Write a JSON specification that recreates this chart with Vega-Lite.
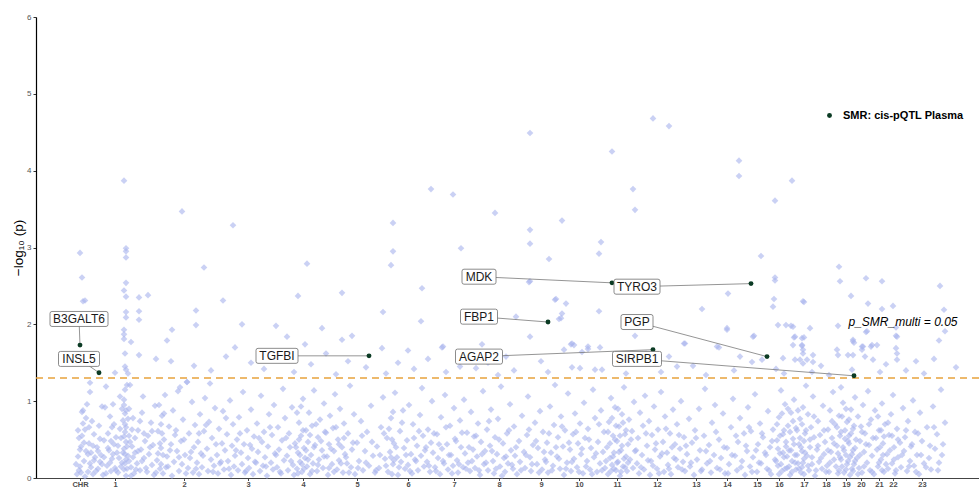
{
"$schema":"https://vega.github.io/schema/vega-lite/v6.json",
"width":943,"height":461,
"autosize":{"type":"none"},
"padding":{"left":36,"top":17,"right":0,"bottom":10},
"background":"white",
"config":{"view":{"stroke":null},"font":"Liberation Sans"},
"datasets":{
"bg":[
{"pos":44,"logp":2.93},{"pos":46,"logp":2.61},{"pos":49,"logp":2.31},{"pos":47,"logp":2.30},{"pos":51,"logp":1.49},{"pos":54,"logp":1.24},
{"pos":88,"logp":3.87},{"pos":90,"logp":2.99},{"pos":90,"logp":2.95},{"pos":90,"logp":2.87},{"pos":90,"logp":2.54},{"pos":88,"logp":2.44},{"pos":90,"logp":2.36},{"pos":90,"logp":2.16},{"pos":90,"logp":2.09},{"pos":88,"logp":1.93},{"pos":88,"logp":1.87},{"pos":88,"logp":1.81},{"pos":95,"logp":1.77},{"pos":89,"logp":1.62},{"pos":89,"logp":1.45},{"pos":90,"logp":1.41},{"pos":92,"logp":1.36},{"pos":79,"logp":1.37},{"pos":103,"logp":2.35},{"pos":112,"logp":2.38},{"pos":103,"logp":2.17},{"pos":103,"logp":2.06},{"pos":103,"logp":1.60},
{"pos":146,"logp":3.47},{"pos":168,"logp":2.74},{"pos":187,"logp":2.31},{"pos":160,"logp":2.18},{"pos":160,"logp":1.99},{"pos":136,"logp":1.93},{"pos":131,"logp":1.79},{"pos":151,"logp":1.25},
{"pos":197,"logp":3.29},{"pos":206,"logp":2.00},{"pos":199,"logp":1.70},{"pos":240,"logp":1.98},{"pos":251,"logp":1.84},
{"pos":271,"logp":2.79},{"pos":262,"logp":2.37},{"pos":269,"logp":1.74},{"pos":286,"logp":1.95},{"pos":306,"logp":2.41},{"pos":306,"logp":1.80},{"pos":316,"logp":1.85},
{"pos":347,"logp":2.16},{"pos":346,"logp":1.69},{"pos":357,"logp":3.32},{"pos":357,"logp":2.95},{"pos":355,"logp":2.77},{"pos":386,"logp":2.47},{"pos":385,"logp":2.04},
{"pos":395,"logp":3.76},{"pos":417,"logp":3.69},{"pos":425,"logp":2.99},{"pos":407,"logp":1.71},{"pos":446,"logp":1.74},{"pos":459,"logp":3.45},
{"pos":494,"logp":4.49},{"pos":494,"logp":3.23},{"pos":494,"logp":3.05},{"pos":494,"logp":2.56},{"pos":494,"logp":1.84},{"pos":493,"logp":2.55},{"pos":480,"logp":2.10},{"pos":513,"logp":2.85},{"pos":519,"logp":2.32},{"pos":530,"logp":2.27},{"pos":526,"logp":3.35},{"pos":526,"logp":2.14},{"pos":523,"logp":2.07},{"pos":520,"logp":2.33},{"pos":525,"logp":2.08},{"pos":535,"logp":1.74},{"pos":536,"logp":1.75},{"pos":538,"logp":1.73},{"pos":546,"logp":1.64},{"pos":528,"logp":1.67},{"pos":552,"logp":1.68},{"pos":552,"logp":1.71},{"pos":564,"logp":1.70},{"pos":406,"logp":1.70},{"pos":424,"logp":1.45},{"pos":440,"logp":1.43},{"pos":536,"logp":1.44},{"pos":544,"logp":1.43},{"pos":559,"logp":1.41},{"pos":566,"logp":1.41},
{"pos":563,"logp":2.92},{"pos":565,"logp":3.07},{"pos":563,"logp":2.17},{"pos":576,"logp":4.25},{"pos":597,"logp":3.76},{"pos":599,"logp":3.49},{"pos":599,"logp":1.85},{"pos":617,"logp":4.68},{"pos":633,"logp":4.58},{"pos":648,"logp":1.75},{"pos":649,"logp":1.75},{"pos":641,"logp":1.45},{"pos":666,"logp":2.20},{"pos":681,"logp":1.71},{"pos":683,"logp":1.70},{"pos":691,"logp":1.95},{"pos":692,"logp":2.40},{"pos":691,"logp":1.93},
{"pos":703,"logp":4.13},{"pos":703,"logp":3.93},{"pos":725,"logp":2.89},{"pos":739,"logp":3.61},{"pos":739,"logp":2.61},{"pos":739,"logp":2.57},{"pos":738,"logp":2.33},{"pos":737,"logp":2.23},{"pos":704,"logp":1.58},{"pos":716,"logp":1.51},{"pos":726,"logp":1.54},{"pos":717,"logp":1.84},{"pos":718,"logp":1.85},
{"pos":756,"logp":3.87},{"pos":768,"logp":2.29},{"pos":767,"logp":2.30},{"pos":742,"logp":1.99},{"pos":755,"logp":1.98},{"pos":750,"logp":1.99},{"pos":757,"logp":1.97},{"pos":774,"logp":1.95},{"pos":758,"logp":1.83},{"pos":768,"logp":1.83},{"pos":757,"logp":1.73},{"pos":766,"logp":1.73},{"pos":767,"logp":1.67},{"pos":777,"logp":1.60},{"pos":747,"logp":1.56},{"pos":764,"logp":1.54},{"pos":771,"logp":1.54},{"pos":759,"logp":1.84},{"pos":766,"logp":1.82},{"pos":766,"logp":1.72},{"pos":767,"logp":1.62},{"pos":767,"logp":1.49},{"pos":759,"logp":1.54},{"pos":777,"logp":1.51},{"pos":776,"logp":1.38},
{"pos":803,"logp":2.75},{"pos":802,"logp":1.98},{"pos":804,"logp":2.56},{"pos":815,"logp":2.37},{"pos":830,"logp":2.60},{"pos":832,"logp":2.27},{"pos":846,"logp":2.56},{"pos":846,"logp":2.20},{"pos":857,"logp":2.24},{"pos":830,"logp":1.90},{"pos":831,"logp":1.91},{"pos":818,"logp":1.76},{"pos":827,"logp":1.71},{"pos":835,"logp":1.71},{"pos":801,"logp":1.67},{"pos":802,"logp":1.60},{"pos":817,"logp":1.80},{"pos":826,"logp":1.71},{"pos":817,"logp":1.60},{"pos":829,"logp":1.58},{"pos":837,"logp":1.54},{"pos":841,"logp":1.73},{"pos":812,"logp":1.60},{"pos":817,"logp":1.78},{"pos":826,"logp":1.67},{"pos":836,"logp":1.73},{"pos":844,"logp":1.38},{"pos":816,"logp":1.41},
{"pos":860,"logp":1.96},{"pos":860,"logp":1.85},{"pos":860,"logp":1.69},{"pos":861,"logp":1.62},{"pos":861,"logp":1.54},{"pos":861,"logp":1.84},{"pos":904,"logp":2.50},{"pos":908,"logp":2.19},{"pos":909,"logp":1.91},{"pos":903,"logp":1.79},{"pos":898,"logp":1.55},
{"pos":120,"logp":1.55},{"pos":135,"logp":1.52},{"pos":158,"logp":1.46},{"pos":175,"logp":1.40},{"pos":190,"logp":1.58},{"pos":215,"logp":1.50},{"pos":228,"logp":1.42},{"pos":245,"logp":1.56},{"pos":258,"logp":1.38},{"pos":275,"logp":1.48},{"pos":290,"logp":1.62},{"pos":300,"logp":1.35},{"pos":312,"logp":1.52},{"pos":330,"logp":1.44},{"pos":350,"logp":1.36},{"pos":362,"logp":1.50},{"pos":372,"logp":1.66},{"pos":378,"logp":1.42},{"pos":392,"logp":1.55},{"pos":410,"logp":1.38},{"pos":428,"logp":1.60},{"pos":452,"logp":1.50},{"pos":462,"logp":1.34},{"pos":470,"logp":1.58},{"pos":478,"logp":1.40},{"pos":505,"logp":1.52},{"pos":512,"logp":1.38},{"pos":580,"logp":1.56},{"pos":590,"logp":1.36},{"pos":610,"logp":1.62},{"pos":620,"logp":1.50},{"pos":625,"logp":1.38},{"pos":633,"logp":1.58},{"pos":657,"logp":1.46},{"pos":670,"logp":1.34},{"pos":698,"logp":1.40},{"pos":740,"logp":1.42},{"pos":748,"logp":1.36},{"pos":785,"logp":1.46},{"pos":793,"logp":1.34},{"pos":850,"logp":1.48},{"pos":870,"logp":1.40},{"pos":880,"logp":1.52},{"pos":888,"logp":1.36},{"pos":920,"logp":1.44},
{"pos":41,"logp":0.05},{"pos":42,"logp":0.28},{"pos":43,"logp":0.52},{"pos":44,"logp":0.15},{"pos":45,"logp":0.41},{"pos":46,"logp":0.86},{"pos":47,"logp":0.88},{"pos":48,"logp":0.22},{"pos":49,"logp":0.63},{"pos":50,"logp":0.35},{"pos":43,"logp":0.10},{"pos":47,"logp":0.71},
{"pos":51,"logp":0.96},{"pos":52,"logp":0.08},{"pos":53,"logp":0.45},{"pos":54,"logp":0.19},{"pos":55,"logp":0.33},{"pos":56,"logp":0.74},{"pos":57,"logp":0.05},{"pos":58,"logp":0.57},{"pos":59,"logp":0.27},{"pos":54,"logp":1.12},
{"pos":61,"logp":0.40},{"pos":62,"logp":0.12},{"pos":63,"logp":0.68},{"pos":64,"logp":0.21},{"pos":66,"logp":0.93},{"pos":67,"logp":0.04},{"pos":68,"logp":0.49},{"pos":69,"logp":0.92},{"pos":70,"logp":1.19},{"pos":65,"logp":0.30},
{"pos":71,"logp":0.16},{"pos":72,"logp":0.58},{"pos":73,"logp":0.36},{"pos":74,"logp":0.80},{"pos":75,"logp":0.09},{"pos":76,"logp":0.25},{"pos":77,"logp":0.96},{"pos":78,"logp":0.44},{"pos":79,"logp":0.13},{"pos":76,"logp":0.66},
{"pos":81,"logp":0.33},{"pos":82,"logp":0.07},{"pos":84,"logp":1.06},{"pos":85,"logp":0.52},{"pos":86,"logp":0.20},{"pos":87,"logp":0.75},{"pos":88,"logp":0.11},{"pos":88,"logp":0.38},{"pos":89,"logp":0.60},{"pos":89,"logp":0.84},{"pos":90,"logp":0.24},{"pos":90,"logp":0.47},{"pos":89,"logp":1.15},{"pos":88,"logp":0.95},{"pos":90,"logp":0.03},{"pos":89,"logp":0.70},{"pos":91,"logp":1.21},{"pos":88,"logp":1.02},
{"pos":92,"logp":0.29},{"pos":93,"logp":0.55},{"pos":94,"logp":1.21},{"pos":95,"logp":0.14},{"pos":96,"logp":0.41},{"pos":97,"logp":0.78},{"pos":98,"logp":0.06},{"pos":99,"logp":0.33},{"pos":93,"logp":0.90},
{"pos":101,"logp":0.19},{"pos":102,"logp":0.62},{"pos":104,"logp":0.10},{"pos":105,"logp":0.37},{"pos":106,"logp":0.85},{"pos":107,"logp":1.06},{"pos":108,"logp":0.26},{"pos":109,"logp":0.48},
{"pos":111,"logp":0.08},{"pos":112,"logp":0.55},{"pos":113,"logp":0.31},{"pos":115,"logp":0.72},{"pos":116,"logp":0.17},{"pos":117,"logp":0.43},{"pos":118,"logp":0.04},{"pos":119,"logp":0.94},
{"pos":121,"logp":0.23},{"pos":122,"logp":0.61},{"pos":124,"logp":0.12},{"pos":125,"logp":0.39},{"pos":126,"logp":0.81},{"pos":127,"logp":0.06},{"pos":128,"logp":0.50},{"pos":129,"logp":1.08},
{"pos":131,"logp":0.28},{"pos":132,"logp":0.15},{"pos":133,"logp":0.67},{"pos":135,"logp":0.44},{"pos":136,"logp":0.03},{"pos":137,"logp":0.88},{"pos":138,"logp":0.21},{"pos":139,"logp":0.56},
{"pos":141,"logp":0.35},{"pos":142,"logp":1.13},{"pos":143,"logp":0.09},{"pos":144,"logp":1.18},{"pos":145,"logp":0.48},{"pos":146,"logp":0.18},{"pos":147,"logp":0.76},{"pos":149,"logp":0.30},
{"pos":151,"logp":1.25},{"pos":152,"logp":0.13},{"pos":153,"logp":0.58},{"pos":154,"logp":0.26},{"pos":156,"logp":0.99},{"pos":157,"logp":0.07},{"pos":158,"logp":0.40},{"pos":159,"logp":0.69},
{"pos":161,"logp":0.20},{"pos":162,"logp":0.47},{"pos":163,"logp":0.05},{"pos":164,"logp":0.83},{"pos":165,"logp":0.32},{"pos":166,"logp":0.14},{"pos":168,"logp":0.61},{"pos":169,"logp":1.04},
{"pos":171,"logp":0.38},{"pos":172,"logp":0.09},{"pos":173,"logp":0.73},{"pos":174,"logp":1.23},{"pos":175,"logp":0.24},{"pos":176,"logp":0.52},{"pos":178,"logp":0.16},{"pos":179,"logp":0.91},
{"pos":181,"logp":0.30},{"pos":182,"logp":0.06},{"pos":183,"logp":0.64},{"pos":184,"logp":0.19},{"pos":186,"logp":0.45},{"pos":187,"logp":0.87},{"pos":188,"logp":0.11},{"pos":189,"logp":0.36},
{"pos":191,"logp":0.57},{"pos":192,"logp":0.22},{"pos":194,"logp":1.01},{"pos":195,"logp":0.04},{"pos":196,"logp":0.42},{"pos":197,"logp":0.70},{"pos":198,"logp":0.15},{"pos":199,"logp":0.29},
{"pos":201,"logp":0.50},{"pos":202,"logp":0.10},{"pos":203,"logp":0.79},{"pos":205,"logp":0.33},{"pos":206,"logp":0.18},{"pos":207,"logp":1.12},{"pos":208,"logp":0.44},{"pos":209,"logp":0.07},
{"pos":211,"logp":0.62},{"pos":212,"logp":0.26},{"pos":213,"logp":0.13},{"pos":215,"logp":0.89},{"pos":216,"logp":0.38},{"pos":217,"logp":0.05},{"pos":218,"logp":0.54},{"pos":219,"logp":0.21},
{"pos":221,"logp":0.71},{"pos":222,"logp":0.34},{"pos":224,"logp":0.09},{"pos":225,"logp":1.07},{"pos":226,"logp":0.47},{"pos":227,"logp":0.16},{"pos":228,"logp":0.60},{"pos":229,"logp":0.27},
{"pos":231,"logp":0.03},{"pos":232,"logp":0.41},{"pos":233,"logp":0.83},{"pos":235,"logp":0.20},{"pos":236,"logp":0.56},{"pos":237,"logp":0.11},{"pos":238,"logp":0.95},{"pos":239,"logp":0.32},
{"pos":241,"logp":0.14},{"pos":242,"logp":0.66},{"pos":243,"logp":0.37},{"pos":245,"logp":0.06},{"pos":246,"logp":0.49},{"pos":247,"logp":1.16},{"pos":248,"logp":0.23},{"pos":249,"logp":0.78},
{"pos":251,"logp":0.29},{"pos":252,"logp":0.10},{"pos":253,"logp":0.58},{"pos":254,"logp":0.40},{"pos":256,"logp":0.92},{"pos":257,"logp":0.17},{"pos":258,"logp":0.04},{"pos":259,"logp":0.45},
{"pos":261,"logp":0.12},{"pos":262,"logp":0.33},{"pos":263,"logp":0.72},{"pos":264,"logp":0.21},{"pos":265,"logp":0.55},{"pos":266,"logp":0.08},{"pos":267,"logp":1.03},{"pos":268,"logp":0.39},{"pos":269,"logp":0.26},{"pos":270,"logp":0.62},
{"pos":271,"logp":0.15},{"pos":272,"logp":0.47},{"pos":273,"logp":0.85},{"pos":274,"logp":0.05},{"pos":275,"logp":0.30},{"pos":276,"logp":0.68},{"pos":277,"logp":0.19},{"pos":278,"logp":1.14},{"pos":279,"logp":0.43},
{"pos":281,"logp":0.09},{"pos":282,"logp":0.53},{"pos":283,"logp":0.24},{"pos":284,"logp":0.76},{"pos":286,"logp":0.36},{"pos":287,"logp":0.13},{"pos":288,"logp":0.97},{"pos":289,"logp":0.60},
{"pos":291,"logp":0.28},{"pos":292,"logp":0.04},{"pos":293,"logp":0.44},{"pos":294,"logp":0.81},{"pos":296,"logp":0.18},{"pos":297,"logp":0.65},{"pos":298,"logp":0.35},{"pos":299,"logp":1.09},
{"pos":301,"logp":0.11},{"pos":302,"logp":0.50},{"pos":303,"logp":0.23},{"pos":304,"logp":0.90},{"pos":306,"logp":0.40},{"pos":307,"logp":0.07},{"pos":308,"logp":0.71},{"pos":309,"logp":0.31},
{"pos":311,"logp":0.19},{"pos":312,"logp":0.58},{"pos":314,"logp":1.20},{"pos":315,"logp":0.14},{"pos":316,"logp":0.37},{"pos":318,"logp":0.83},{"pos":319,"logp":0.05},
{"pos":321,"logp":0.46},{"pos":323,"logp":0.22},{"pos":325,"logp":0.74},{"pos":327,"logp":0.10},{"pos":329,"logp":0.35},
{"pos":331,"logp":0.60},{"pos":333,"logp":0.16},{"pos":335,"logp":0.94},{"pos":337,"logp":0.29},{"pos":339,"logp":0.07},
{"pos":341,"logp":0.41},{"pos":343,"logp":0.13},{"pos":345,"logp":0.66},{"pos":347,"logp":1.05},{"pos":349,"logp":0.25},
{"pos":351,"logp":0.52},{"pos":352,"logp":0.08},{"pos":354,"logp":0.34},{"pos":355,"logp":0.78},{"pos":357,"logp":0.18},{"pos":358,"logp":0.45},{"pos":359,"logp":1.11},
{"pos":361,"logp":0.27},{"pos":362,"logp":0.04},{"pos":364,"logp":0.61},{"pos":365,"logp":0.21},{"pos":367,"logp":0.88},{"pos":368,"logp":0.39},{"pos":369,"logp":0.12},
{"pos":371,"logp":0.49},{"pos":372,"logp":0.17},{"pos":373,"logp":0.95},{"pos":375,"logp":0.31},{"pos":376,"logp":0.06},{"pos":377,"logp":0.70},{"pos":379,"logp":0.24},
{"pos":381,"logp":0.42},{"pos":382,"logp":0.10},{"pos":384,"logp":0.82},{"pos":385,"logp":0.29},{"pos":386,"logp":1.17},{"pos":387,"logp":0.55},{"pos":388,"logp":0.15},{"pos":389,"logp":0.36},
{"pos":391,"logp":0.21},{"pos":392,"logp":0.63},{"pos":394,"logp":0.08},{"pos":395,"logp":0.46},{"pos":396,"logp":1.00},{"pos":397,"logp":0.33},{"pos":399,"logp":0.14},
{"pos":401,"logp":0.57},{"pos":402,"logp":0.26},{"pos":404,"logp":0.05},{"pos":405,"logp":0.79},{"pos":406,"logp":0.38},{"pos":408,"logp":0.19},{"pos":409,"logp":1.08},
{"pos":411,"logp":0.44},{"pos":412,"logp":0.11},{"pos":414,"logp":0.68},{"pos":415,"logp":0.30},{"pos":417,"logp":0.16},{"pos":418,"logp":0.91},{"pos":419,"logp":0.51},
{"pos":421,"logp":0.23},{"pos":422,"logp":0.07},{"pos":424,"logp":0.75},{"pos":425,"logp":0.40},{"pos":427,"logp":0.14},{"pos":428,"logp":1.02},{"pos":429,"logp":0.32},
{"pos":431,"logp":0.59},{"pos":432,"logp":0.20},{"pos":434,"logp":0.09},{"pos":435,"logp":0.86},{"pos":437,"logp":0.37},{"pos":438,"logp":0.54},{"pos":439,"logp":0.13},
{"pos":441,"logp":0.28},{"pos":442,"logp":0.71},{"pos":444,"logp":0.04},{"pos":445,"logp":0.47},{"pos":447,"logp":1.13},{"pos":448,"logp":0.18},{"pos":449,"logp":0.35},
{"pos":451,"logp":0.63},{"pos":452,"logp":0.10},{"pos":454,"logp":0.42},{"pos":455,"logp":0.89},{"pos":457,"logp":0.22},{"pos":458,"logp":0.06},{"pos":459,"logp":0.53},
{"pos":461,"logp":0.31},{"pos":462,"logp":0.77},{"pos":464,"logp":0.15},{"pos":465,"logp":1.19},{"pos":467,"logp":0.45},{"pos":468,"logp":0.26},{"pos":469,"logp":0.08},
{"pos":471,"logp":0.58},{"pos":472,"logp":0.19},{"pos":474,"logp":0.96},{"pos":475,"logp":0.36},{"pos":477,"logp":0.12},{"pos":478,"logp":0.67},{"pos":479,"logp":0.29},
{"pos":481,"logp":0.05},{"pos":483,"logp":0.48},{"pos":484,"logp":0.21},{"pos":486,"logp":0.81},{"pos":488,"logp":0.34},{"pos":489,"logp":0.13},
{"pos":491,"logp":0.56},{"pos":492,"logp":1.06},{"pos":494,"logp":0.27},{"pos":495,"logp":0.09},{"pos":497,"logp":0.43},{"pos":499,"logp":0.72},
{"pos":501,"logp":0.18},{"pos":502,"logp":0.39},{"pos":504,"logp":0.87},{"pos":506,"logp":0.11},{"pos":507,"logp":0.60},{"pos":509,"logp":0.24},
{"pos":511,"logp":0.46},{"pos":512,"logp":0.07},{"pos":514,"logp":0.93},{"pos":515,"logp":0.33},{"pos":517,"logp":0.16},{"pos":518,"logp":0.69},{"pos":519,"logp":1.21},
{"pos":521,"logp":0.28},{"pos":522,"logp":0.53},{"pos":524,"logp":0.12},{"pos":525,"logp":0.80},{"pos":527,"logp":0.41},{"pos":528,"logp":0.04},{"pos":529,"logp":0.62},
{"pos":531,"logp":0.20},{"pos":532,"logp":1.10},{"pos":534,"logp":0.37},{"pos":535,"logp":0.09},{"pos":537,"logp":0.57},{"pos":538,"logp":0.25},{"pos":539,"logp":0.84},
{"pos":541,"logp":0.14},{"pos":542,"logp":0.45},{"pos":544,"logp":0.71},{"pos":545,"logp":0.31},{"pos":547,"logp":0.06},{"pos":548,"logp":0.98},{"pos":549,"logp":0.52},
{"pos":551,"logp":0.22},{"pos":552,"logp":0.64},{"pos":554,"logp":0.11},{"pos":555,"logp":0.39},{"pos":557,"logp":1.15},{"pos":558,"logp":0.27},{"pos":559,"logp":0.78},
{"pos":561,"logp":0.08},{"pos":562,"logp":0.47},{"pos":564,"logp":0.19},{"pos":565,"logp":0.88},{"pos":567,"logp":0.34},{"pos":568,"logp":0.60},{"pos":569,"logp":0.13},
{"pos":571,"logp":0.40},{"pos":572,"logp":0.05},{"pos":573,"logp":0.73},{"pos":574,"logp":0.26},{"pos":575,"logp":1.04},{"pos":576,"logp":0.17},{"pos":577,"logp":0.55},{"pos":578,"logp":0.33},{"pos":579,"logp":0.92},{"pos":580,"logp":0.10},
{"pos":581,"logp":0.48},{"pos":582,"logp":0.21},{"pos":583,"logp":0.67},{"pos":584,"logp":0.03},{"pos":585,"logp":0.36},{"pos":586,"logp":0.83},{"pos":587,"logp":0.15},{"pos":588,"logp":1.18},{"pos":589,"logp":0.57},{"pos":590,"logp":0.28},
{"pos":591,"logp":0.09},{"pos":592,"logp":0.44},{"pos":593,"logp":0.76},{"pos":594,"logp":0.24},{"pos":596,"logp":0.61},{"pos":597,"logp":0.13},{"pos":598,"logp":0.99},{"pos":599,"logp":0.35},
{"pos":601,"logp":0.19},{"pos":602,"logp":0.52},{"pos":603,"logp":0.06},{"pos":604,"logp":0.85},{"pos":606,"logp":0.30},{"pos":607,"logp":0.68},{"pos":608,"logp":0.11},{"pos":609,"logp":1.07},
{"pos":611,"logp":0.42},{"pos":612,"logp":0.23},{"pos":613,"logp":0.74},{"pos":614,"logp":0.04},{"pos":616,"logp":0.56},{"pos":617,"logp":0.16},{"pos":618,"logp":0.93},{"pos":619,"logp":0.37},
{"pos":621,"logp":0.12},{"pos":622,"logp":0.63},{"pos":624,"logp":0.28},{"pos":625,"logp":1.12},{"pos":627,"logp":0.47},{"pos":628,"logp":0.08},{"pos":629,"logp":0.80},
{"pos":631,"logp":0.33},{"pos":632,"logp":0.17},{"pos":634,"logp":0.58},{"pos":635,"logp":0.05},{"pos":637,"logp":0.89},{"pos":638,"logp":0.26},{"pos":639,"logp":0.44},
{"pos":641,"logp":0.70},{"pos":642,"logp":0.14},{"pos":644,"logp":0.38},{"pos":645,"logp":1.00},{"pos":647,"logp":0.21},{"pos":648,"logp":0.53},{"pos":649,"logp":0.09},
{"pos":651,"logp":0.31},{"pos":653,"logp":0.77},{"pos":654,"logp":0.15},{"pos":656,"logp":0.46},{"pos":658,"logp":0.04},{"pos":659,"logp":0.62},
{"pos":661,"logp":0.24},{"pos":663,"logp":0.90},{"pos":664,"logp":0.36},{"pos":666,"logp":0.11},{"pos":668,"logp":0.55},{"pos":669,"logp":1.16},
{"pos":671,"logp":0.19},{"pos":673,"logp":0.43},{"pos":675,"logp":0.07},{"pos":676,"logp":0.72},{"pos":678,"logp":0.30},{"pos":679,"logp":0.95},
{"pos":681,"logp":0.13},{"pos":683,"logp":0.50},{"pos":685,"logp":0.26},{"pos":687,"logp":0.84},{"pos":689,"logp":0.06},
{"pos":691,"logp":0.39},{"pos":693,"logp":0.18},{"pos":695,"logp":0.66},{"pos":697,"logp":1.03},{"pos":699,"logp":0.29},
{"pos":701,"logp":0.10},{"pos":702,"logp":0.47},{"pos":704,"logp":0.78},{"pos":706,"logp":0.22},{"pos":708,"logp":0.58},{"pos":709,"logp":0.04},
{"pos":711,"logp":0.35},{"pos":712,"logp":0.92},{"pos":714,"logp":0.15},{"pos":715,"logp":0.61},{"pos":717,"logp":0.27},{"pos":719,"logp":1.09},
{"pos":721,"logp":0.08},{"pos":722,"logp":0.44},{"pos":724,"logp":0.71},{"pos":725,"logp":0.19},{"pos":727,"logp":0.53},{"pos":729,"logp":0.33},
{"pos":731,"logp":0.12},{"pos":732,"logp":0.87},{"pos":734,"logp":0.40},{"pos":735,"logp":0.05},{"pos":737,"logp":0.63},{"pos":739,"logp":0.24},
{"pos":741,"logp":0.49},{"pos":742,"logp":0.16},{"pos":743,"logp":0.79},{"pos":744,"logp":0.32},{"pos":745,"logp":1.14},{"pos":746,"logp":0.09},{"pos":747,"logp":0.57},{"pos":748,"logp":0.27},{"pos":749,"logp":0.96},{"pos":750,"logp":0.41},
{"pos":751,"logp":0.13},{"pos":752,"logp":0.68},{"pos":753,"logp":0.36},{"pos":754,"logp":0.04},{"pos":755,"logp":0.85},{"pos":756,"logp":0.22},{"pos":757,"logp":0.51},{"pos":758,"logp":1.02},{"pos":759,"logp":0.30},{"pos":760,"logp":0.11},
{"pos":761,"logp":0.62},{"pos":762,"logp":0.19},{"pos":763,"logp":0.44},{"pos":764,"logp":0.77},{"pos":765,"logp":0.07},{"pos":766,"logp":0.35},{"pos":767,"logp":0.92},{"pos":768,"logp":0.25},{"pos":769,"logp":0.58},{"pos":770,"logp":1.20},{"pos":766,"logp":0.14},{"pos":768,"logp":0.48},
{"pos":771,"logp":0.29},{"pos":772,"logp":0.83},{"pos":773,"logp":0.10},{"pos":774,"logp":0.40},{"pos":775,"logp":0.66},{"pos":776,"logp":0.18},{"pos":777,"logp":1.06},{"pos":778,"logp":0.53},{"pos":779,"logp":0.03},
{"pos":781,"logp":0.37},{"pos":782,"logp":0.74},{"pos":783,"logp":0.21},{"pos":784,"logp":0.56},{"pos":786,"logp":0.12},{"pos":787,"logp":0.94},{"pos":788,"logp":0.31},{"pos":789,"logp":0.47},
{"pos":791,"logp":0.16},{"pos":792,"logp":0.63},{"pos":793,"logp":0.08},{"pos":794,"logp":0.88},{"pos":795,"logp":0.34},{"pos":796,"logp":0.52},{"pos":797,"logp":1.12},{"pos":798,"logp":0.24},{"pos":799,"logp":0.70},
{"pos":801,"logp":0.42},{"pos":802,"logp":0.06},{"pos":803,"logp":0.81},{"pos":804,"logp":0.27},{"pos":805,"logp":0.60},{"pos":806,"logp":0.15},{"pos":807,"logp":0.98},{"pos":808,"logp":0.36},{"pos":809,"logp":0.51},{"pos":810,"logp":0.11},{"pos":805,"logp":1.18},
{"pos":811,"logp":0.73},{"pos":812,"logp":0.22},{"pos":813,"logp":0.45},{"pos":814,"logp":0.04},{"pos":815,"logp":0.89},{"pos":816,"logp":0.31},{"pos":817,"logp":0.64},{"pos":818,"logp":0.18},{"pos":819,"logp":1.05},{"pos":813,"logp":0.55},{"pos":817,"logp":0.09},{"pos":819,"logp":0.39},
{"pos":821,"logp":0.26},{"pos":822,"logp":0.80},{"pos":823,"logp":0.13},{"pos":824,"logp":0.48},{"pos":825,"logp":0.67},{"pos":826,"logp":0.07},{"pos":827,"logp":0.95},{"pos":828,"logp":0.34},{"pos":829,"logp":0.58},
{"pos":831,"logp":0.20},{"pos":832,"logp":1.13},{"pos":833,"logp":0.43},{"pos":834,"logp":0.10},{"pos":835,"logp":0.76},{"pos":836,"logp":0.29},{"pos":837,"logp":0.52},{"pos":838,"logp":0.05},{"pos":839,"logp":0.88},
{"pos":841,"logp":0.37},{"pos":842,"logp":0.15},{"pos":843,"logp":0.62},{"pos":845,"logp":0.24},{"pos":846,"logp":0.97},{"pos":847,"logp":0.45},{"pos":848,"logp":0.08},{"pos":849,"logp":0.70},
{"pos":851,"logp":0.31},{"pos":852,"logp":0.12},{"pos":853,"logp":0.56},{"pos":855,"logp":0.83},{"pos":856,"logp":0.19},{"pos":857,"logp":1.08},{"pos":858,"logp":0.40},{"pos":859,"logp":0.06},
{"pos":861,"logp":0.64},{"pos":862,"logp":0.27},{"pos":864,"logp":0.46},{"pos":865,"logp":0.14},{"pos":867,"logp":0.91},{"pos":868,"logp":0.35},{"pos":869,"logp":0.53},
{"pos":871,"logp":0.09},{"pos":872,"logp":0.74},{"pos":874,"logp":0.22},{"pos":875,"logp":0.41},{"pos":877,"logp":1.01},{"pos":878,"logp":0.16},{"pos":879,"logp":0.60},
{"pos":881,"logp":0.30},{"pos":883,"logp":0.05},{"pos":884,"logp":0.85},{"pos":886,"logp":0.48},{"pos":888,"logp":0.19},
{"pos":891,"logp":0.66},{"pos":893,"logp":0.26},{"pos":895,"logp":0.11},{"pos":897,"logp":0.93},{"pos":899,"logp":0.38},
{"pos":901,"logp":0.57},{"pos":903,"logp":0.20},{"pos":905,"logp":1.15},{"pos":907,"logp":0.44},{"pos":909,"logp":0.72},
{"pos":40,"logp":0.18},{"pos":42,"logp":0.62},{"pos":44,"logp":0.37},{"pos":45,"logp":0.07},{"pos":46,"logp":0.55},{"pos":48,"logp":0.46},{"pos":49,"logp":0.02},{"pos":50,"logp":0.78},{"pos":52,"logp":0.31},{"pos":53,"logp":0.66},{"pos":55,"logp":0.14},{"pos":57,"logp":0.42},{"pos":58,"logp":0.23},{"pos":60,"logp":0.09},{"pos":62,"logp":0.35},{"pos":64,"logp":0.51},{"pos":66,"logp":0.18},{"pos":68,"logp":0.27},{"pos":70,"logp":0.06},{"pos":72,"logp":0.39},{"pos":74,"logp":0.20},{"pos":75,"logp":0.48},{"pos":77,"logp":0.31},{"pos":78,"logp":0.70},{"pos":80,"logp":0.10},{"pos":80,"logp":0.53},{"pos":82,"logp":0.42},{"pos":83,"logp":0.26},{"pos":84,"logp":0.64},{"pos":85,"logp":0.15},{"pos":86,"logp":0.90},{"pos":87,"logp":0.33},{"pos":88,"logp":0.54},{"pos":89,"logp":0.19},{"pos":89,"logp":0.31},{"pos":90,"logp":0.66},{"pos":90,"logp":0.88},{"pos":91,"logp":0.12},{"pos":91,"logp":0.41},{"pos":92,"logp":0.77},{"pos":93,"logp":0.22},{"pos":94,"logp":0.47},{"pos":95,"logp":0.03},{"pos":96,"logp":0.63},{"pos":97,"logp":0.27},{"pos":99,"logp":0.52},
{"pos":100,"logp":0.11},{"pos":102,"logp":0.35},{"pos":104,"logp":0.74},{"pos":106,"logp":0.22},{"pos":108,"logp":0.58},{"pos":110,"logp":0.13},{"pos":114,"logp":0.40},{"pos":116,"logp":0.61},{"pos":120,"logp":0.07},{"pos":122,"logp":0.32},{"pos":123,"logp":0.95},{"pos":124,"logp":0.45},{"pos":125,"logp":0.70},{"pos":125,"logp":0.18},{"pos":126,"logp":0.58},{"pos":127,"logp":0.30},{"pos":128,"logp":0.84},{"pos":130,"logp":0.14},{"pos":134,"logp":0.36},{"pos":140,"logp":0.62},{"pos":143,"logp":0.27},{"pos":148,"logp":0.50},{"pos":150,"logp":0.06},{"pos":155,"logp":0.34},{"pos":160,"logp":0.12},{"pos":163,"logp":0.58},{"pos":167,"logp":0.29},{"pos":170,"logp":0.69},{"pos":177,"logp":0.08},{"pos":180,"logp":0.44},{"pos":185,"logp":0.21},{"pos":190,"logp":0.78},
{"pos":193,"logp":0.12},{"pos":200,"logp":0.36},{"pos":204,"logp":0.58},{"pos":210,"logp":0.09},{"pos":214,"logp":0.43},{"pos":220,"logp":0.20},{"pos":223,"logp":0.52},{"pos":230,"logp":0.15},{"pos":234,"logp":0.66},{"pos":240,"logp":0.30},{"pos":244,"logp":0.08},{"pos":250,"logp":0.52},{"pos":255,"logp":0.22},{"pos":260,"logp":0.40},{"pos":261,"logp":0.85},{"pos":262,"logp":0.06},{"pos":263,"logp":0.50},{"pos":264,"logp":0.30},{"pos":265,"logp":0.93},{"pos":266,"logp":0.18},{"pos":267,"logp":0.62},{"pos":268,"logp":0.12},{"pos":270,"logp":0.36},{"pos":272,"logp":0.24},{"pos":274,"logp":0.56},{"pos":276,"logp":0.09},{"pos":278,"logp":0.40},{"pos":280,"logp":0.70},{"pos":282,"logp":0.17},{"pos":285,"logp":0.48},{"pos":288,"logp":0.28},{"pos":290,"logp":0.59},{"pos":293,"logp":0.13},{"pos":295,"logp":0.38},{"pos":298,"logp":0.08},{"pos":300,"logp":0.66},{"pos":303,"logp":0.44},{"pos":305,"logp":0.19},{"pos":308,"logp":0.52},{"pos":310,"logp":0.27},{"pos":313,"logp":0.07},{"pos":317,"logp":0.46},
{"pos":322,"logp":0.13},{"pos":326,"logp":0.55},{"pos":330,"logp":0.20},{"pos":336,"logp":0.47},{"pos":340,"logp":0.10},{"pos":344,"logp":0.30},{"pos":348,"logp":0.58},{"pos":350,"logp":0.16},{"pos":353,"logp":0.64},{"pos":355,"logp":0.27},{"pos":356,"logp":0.05},{"pos":356,"logp":0.50},{"pos":357,"logp":0.86},{"pos":358,"logp":0.23},{"pos":360,"logp":0.40},{"pos":363,"logp":0.14},{"pos":366,"logp":0.72},{"pos":370,"logp":0.30},{"pos":374,"logp":0.09},{"pos":378,"logp":0.52},{"pos":380,"logp":0.22},{"pos":383,"logp":0.61},{"pos":390,"logp":0.40},{"pos":393,"logp":0.16},{"pos":398,"logp":0.58},
{"pos":400,"logp":0.09},{"pos":403,"logp":0.44},{"pos":407,"logp":0.22},{"pos":410,"logp":0.66},{"pos":413,"logp":0.30},{"pos":416,"logp":0.06},{"pos":420,"logp":0.48},{"pos":423,"logp":0.18},{"pos":426,"logp":0.59},{"pos":430,"logp":0.12},{"pos":433,"logp":0.40},{"pos":436,"logp":0.22},{"pos":440,"logp":0.55},{"pos":443,"logp":0.10},{"pos":446,"logp":0.31},{"pos":450,"logp":0.20},{"pos":453,"logp":0.74},{"pos":456,"logp":0.35},{"pos":460,"logp":0.12},{"pos":463,"logp":0.50},{"pos":466,"logp":0.03},{"pos":470,"logp":0.28},{"pos":473,"logp":0.62},{"pos":476,"logp":0.17},{"pos":480,"logp":0.40},{"pos":485,"logp":0.10},{"pos":490,"logp":0.30},{"pos":493,"logp":0.63},
{"pos":496,"logp":0.18},{"pos":500,"logp":0.48},{"pos":503,"logp":0.07},{"pos":508,"logp":0.34},{"pos":510,"logp":0.21},{"pos":513,"logp":0.58},{"pos":516,"logp":0.10},{"pos":520,"logp":0.40},{"pos":523,"logp":0.25},{"pos":526,"logp":0.67},{"pos":530,"logp":0.12},{"pos":533,"logp":0.46},{"pos":536,"logp":0.21},{"pos":540,"logp":0.60},{"pos":543,"logp":0.08},{"pos":546,"logp":0.38},{"pos":550,"logp":0.15},{"pos":553,"logp":0.50},{"pos":556,"logp":0.05},{"pos":560,"logp":0.32},{"pos":563,"logp":0.70},{"pos":566,"logp":0.10},{"pos":570,"logp":0.22},{"pos":572,"logp":0.60},{"pos":574,"logp":0.45},{"pos":575,"logp":0.09},{"pos":576,"logp":0.78},{"pos":577,"logp":0.28},{"pos":578,"logp":0.12},{"pos":579,"logp":0.50},{"pos":580,"logp":0.68},{"pos":581,"logp":0.20},{"pos":582,"logp":0.90},{"pos":583,"logp":0.34},{"pos":584,"logp":0.55},{"pos":585,"logp":0.08},{"pos":586,"logp":0.42},{"pos":587,"logp":0.72},{"pos":588,"logp":0.25},{"pos":589,"logp":0.14},{"pos":590,"logp":0.62},{"pos":592,"logp":0.20},{"pos":595,"logp":0.50},{"pos":600,"logp":0.36},{"pos":605,"logp":0.14},{"pos":610,"logp":0.58},{"pos":615,"logp":0.22},{"pos":620,"logp":0.45},{"pos":623,"logp":0.06},{"pos":626,"logp":0.32},{"pos":630,"logp":0.64},{"pos":633,"logp":0.12},{"pos":636,"logp":0.40},{"pos":640,"logp":0.24},{"pos":643,"logp":0.56},{"pos":646,"logp":0.11},{"pos":650,"logp":0.42},
{"pos":655,"logp":0.20},{"pos":660,"logp":0.52},{"pos":665,"logp":0.09},{"pos":670,"logp":0.35},{"pos":674,"logp":0.22},{"pos":680,"logp":0.60},{"pos":684,"logp":0.11},{"pos":688,"logp":0.40},{"pos":692,"logp":0.06},{"pos":696,"logp":0.30},{"pos":700,"logp":0.55},{"pos":705,"logp":0.14},{"pos":710,"logp":0.42},{"pos":713,"logp":0.66},{"pos":716,"logp":0.08},{"pos":720,"logp":0.36},{"pos":723,"logp":0.20},{"pos":726,"logp":0.58},{"pos":730,"logp":0.30},{"pos":733,"logp":0.10},{"pos":736,"logp":0.48},
{"pos":740,"logp":0.22},{"pos":741,"logp":0.70},{"pos":742,"logp":0.38},{"pos":743,"logp":0.05},{"pos":744,"logp":0.55},{"pos":745,"logp":0.18},{"pos":746,"logp":0.84},{"pos":747,"logp":0.33},{"pos":748,"logp":0.62},{"pos":749,"logp":0.12},{"pos":750,"logp":0.47},{"pos":751,"logp":0.28},{"pos":752,"logp":0.90},{"pos":753,"logp":0.15},{"pos":754,"logp":0.60},{"pos":755,"logp":0.36},{"pos":756,"logp":0.08},{"pos":757,"logp":0.74},{"pos":758,"logp":0.44},{"pos":759,"logp":0.20},{"pos":760,"logp":0.65},{"pos":761,"logp":0.30},{"pos":762,"logp":0.88},{"pos":763,"logp":0.12},{"pos":764,"logp":0.52},{"pos":765,"logp":0.40},{"pos":766,"logp":0.70},{"pos":767,"logp":0.20},{"pos":768,"logp":0.05},{"pos":769,"logp":0.33},{"pos":770,"logp":0.62},{"pos":772,"logp":0.16},{"pos":774,"logp":0.50},{"pos":776,"logp":0.27},{"pos":778,"logp":0.80},{"pos":780,"logp":0.10},{"pos":782,"logp":0.42},{"pos":785,"logp":0.26},{"pos":788,"logp":0.62},{"pos":790,"logp":0.08},{"pos":792,"logp":0.36},{"pos":794,"logp":0.20},{"pos":796,"logp":0.74},{"pos":798,"logp":0.45},
{"pos":800,"logp":0.15},{"pos":801,"logp":0.66},{"pos":802,"logp":0.32},{"pos":803,"logp":0.10},{"pos":804,"logp":0.55},{"pos":805,"logp":0.24},{"pos":806,"logp":0.80},{"pos":807,"logp":0.40},{"pos":808,"logp":0.07},{"pos":809,"logp":0.62},{"pos":810,"logp":0.30},{"pos":810,"logp":0.90},{"pos":811,"logp":0.18},{"pos":812,"logp":0.48},{"pos":813,"logp":0.76},{"pos":814,"logp":0.27},{"pos":815,"logp":0.58},{"pos":816,"logp":0.12},{"pos":817,"logp":0.36},{"pos":818,"logp":0.68},{"pos":819,"logp":0.22},{"pos":820,"logp":0.50},{"pos":822,"logp":0.05},{"pos":824,"logp":0.30},{"pos":826,"logp":0.60},{"pos":828,"logp":0.15},{"pos":830,"logp":0.44},{"pos":833,"logp":0.70},{"pos":836,"logp":0.08},{"pos":840,"logp":0.52},{"pos":842,"logp":0.80},{"pos":843,"logp":0.20},{"pos":844,"logp":0.40},{"pos":845,"logp":0.62},{"pos":846,"logp":0.10},{"pos":847,"logp":0.30},{"pos":848,"logp":0.54},{"pos":850,"logp":0.18},{"pos":852,"logp":0.72},{"pos":854,"logp":0.36},{"pos":856,"logp":0.55},{"pos":858,"logp":0.24},{"pos":860,"logp":0.10},{"pos":862,"logp":0.50},{"pos":866,"logp":0.30},{"pos":870,"logp":0.62},{"pos":873,"logp":0.15},{"pos":876,"logp":0.44},{"pos":880,"logp":0.08},{"pos":882,"logp":0.58},{"pos":885,"logp":0.30},{"pos":890,"logp":0.14},{"pos":894,"logp":0.42},{"pos":898,"logp":0.66},{"pos":902,"logp":0.10},{"pos":906,"logp":0.30}
],
"hits":[
{"gene":"B3GALT6","pos":44,"logp":1.73,"lx":43,"ly":2.07,"grp":"SMR: cis-pQTL Plasma"},
{"gene":"INSL5","pos":63,"logp":1.37,"lx":43,"ly":1.55,"grp":"SMR: cis-pQTL Plasma"},
{"gene":"TGFBI","pos":333,"logp":1.59,"lx":241,"ly":1.59,"grp":"SMR: cis-pQTL Plasma"},
{"gene":"MDK","pos":576,"logp":2.54,"lx":443,"ly":2.62,"grp":"SMR: cis-pQTL Plasma"},
{"gene":"TYRO3","pos":715,"logp":2.53,"lx":601,"ly":2.49,"grp":"SMR: cis-pQTL Plasma"},
{"gene":"FBP1","pos":512,"logp":2.03,"lx":443,"ly":2.10,"grp":"SMR: cis-pQTL Plasma"},
{"gene":"PGP","pos":731,"logp":1.58,"lx":601,"ly":2.03,"grp":"SMR: cis-pQTL Plasma"},
{"gene":"AGAP2","pos":617,"logp":1.67,"lx":443,"ly":1.58,"grp":"SMR: cis-pQTL Plasma"},
{"gene":"SIRPB1","pos":818,"logp":1.33,"lx":601,"ly":1.55,"grp":"SMR: cis-pQTL Plasma"}
]
},
"layer":[
{"data":{"name":"bg"},
 "mark":{"type":"point","shape":"diamond","filled":true,"size":44,"color":"#aab4ee","opacity":0.62},
 "encoding":{
  "x":{"field":"pos","type":"quantitative","scale":{"domain":[0,943],"nice":false,"zero":false},
   "axis":{"title":null,"grid":false,"values":[44,79,148,212,267,321,372,418,463,505,543,581,621,660,691,721,743,768,790,810,825,843,857,886],
    "labelExpr":"['CHR','1','2','3','4','5','6','7','8','9','10','11','12','13','14','15','16','17','18','19','20','21','22','23'][indexof([44,79,148,212,267,321,372,418,463,505,543,581,621,660,691,721,743,768,790,810,825,843,857,886], datum.value)]",
    "labelFontWeight":"bold","labelFontSize":7.5,"labelColor":"#4d4d4d","labelOverlap":false,"labelFlush":false,"labelPadding":0,
    "tickSize":2.5,"tickColor":"#444","domainColor":"#444","domainWidth":1.2}},
  "y":{"field":"logp","type":"quantitative","scale":{"domain":[0,6],"nice":false},
   "axis":{"title":"−log₁₀ (p)","titleFontSize":13.5,"titleFontWeight":"normal","titleColor":"black","titlePadding":1,
    "values":[0,1,2,3,4,5,6],"format":"d","grid":false,"labelFontSize":8,"labelColor":"#555","labelPadding":2,
    "tickSize":3,"tickColor":"#333","domainColor":"black","domainWidth":1.2}}
 }},
{"data":{"values":[{"thr":1.30103}]},
 "mark":{"type":"rule","color":"#E8A23C","strokeDash":[7,5],"strokeWidth":1.6},
 "encoding":{"y":{"field":"thr","type":"quantitative"}}},
{"data":{"name":"hits"},
 "mark":{"type":"rule","color":"#7a7a7a","strokeWidth":0.8},
 "encoding":{"x":{"field":"lx","type":"quantitative"},"y":{"field":"ly","type":"quantitative"},"x2":{"field":"pos"},"y2":{"field":"logp"}}},
{"data":{"name":"hits"},
 "mark":{"type":"point","filled":true,"size":24,"opacity":1},
 "encoding":{"x":{"field":"pos","type":"quantitative"},"y":{"field":"logp","type":"quantitative"},
  "color":{"field":"grp","type":"nominal","scale":{"range":["#0b3b24"]},
   "legend":{"title":null,"orient":"none","legendX":788,"legendY":93,"padding":0,"labelFontSize":11,"labelFontWeight":"bold","labelColor":"black","labelOffset":8,"symbolSize":24,"symbolType":"circle"}}}},
{"data":{"name":"hits"},
 "mark":{"type":"point","filled":true,"size":4,"fill":"white","stroke":"#6e6e6e","strokeWidth":0.8,"opacity":1},
 "encoding":{"x":{"field":"lx","type":"quantitative"},"y":{"field":"ly","type":"quantitative"},
  "shape":{"field":"gene","type":"nominal","legend":null,
   "scale":{"domain":["B3GALT6","INSL5","TGFBI","MDK","TYRO3","FBP1","PGP","AGAP2","SIRPB1"],
    "range":[
     "M-27,-7.5H27Q29,-7.5 29,-5.5V5.5Q29,7.5 27,7.5H-27Q-29,7.5 -29,5.5V-5.5Q-29,-7.5 -27,-7.5Z",
     "M-18.5,-7.5H18.5Q20.5,-7.5 20.5,-5.5V5.5Q20.5,7.5 18.5,7.5H-18.5Q-20.5,7.5 -20.5,5.5V-5.5Q-20.5,-7.5 -18.5,-7.5Z",
     "M-19,-7.5H19Q21,-7.5 21,-5.5V5.5Q21,7.5 19,7.5H-19Q-21,7.5 -21,5.5V-5.5Q-21,-7.5 -19,-7.5Z",
     "M-15,-7.5H15Q17,-7.5 17,-5.5V5.5Q17,7.5 15,7.5H-15Q-17,7.5 -17,5.5V-5.5Q-17,-7.5 -15,-7.5Z",
     "M-21,-7.5H21Q23,-7.5 23,-5.5V5.5Q23,7.5 21,7.5H-21Q-23,7.5 -23,5.5V-5.5Q-23,-7.5 -21,-7.5Z",
     "M-16.5,-7.5H16.5Q18.5,-7.5 18.5,-5.5V5.5Q18.5,7.5 16.5,7.5H-16.5Q-18.5,7.5 -18.5,5.5V-5.5Q-18.5,-7.5 -16.5,-7.5Z",
     "M-14,-7.5H14Q16,-7.5 16,-5.5V5.5Q16,7.5 14,7.5H-14Q-16,7.5 -16,5.5V-5.5Q-16,-7.5 -14,-7.5Z",
     "M-21.5,-7.5H21.5Q23.5,-7.5 23.5,-5.5V5.5Q23.5,7.5 21.5,7.5H-21.5Q-23.5,7.5 -23.5,5.5V-5.5Q-23.5,-7.5 -21.5,-7.5Z",
     "M-22.5,-7.5H22.5Q24.5,-7.5 24.5,-5.5V5.5Q24.5,7.5 22.5,7.5H-22.5Q-24.5,7.5 -24.5,5.5V-5.5Q-24.5,-7.5 -22.5,-7.5Z"
    ]}}}},
{"data":{"name":"hits"},
 "mark":{"type":"text","fontSize":12,"color":"#1a1a1a","font":"Liberation Sans"},
 "encoding":{"x":{"field":"lx","type":"quantitative"},"y":{"field":"ly","type":"quantitative"},"text":{"field":"gene"}}},
{"data":{"values":[{"pos":867,"logp":2.03,"lab":"p_SMR_multi = 0.05"}]},
 "mark":{"type":"text","fontSize":12,"fontStyle":"italic","color":"black"},
 "encoding":{"x":{"field":"pos","type":"quantitative"},"y":{"field":"logp","type":"quantitative"},"text":{"field":"lab"}}}
]
}
